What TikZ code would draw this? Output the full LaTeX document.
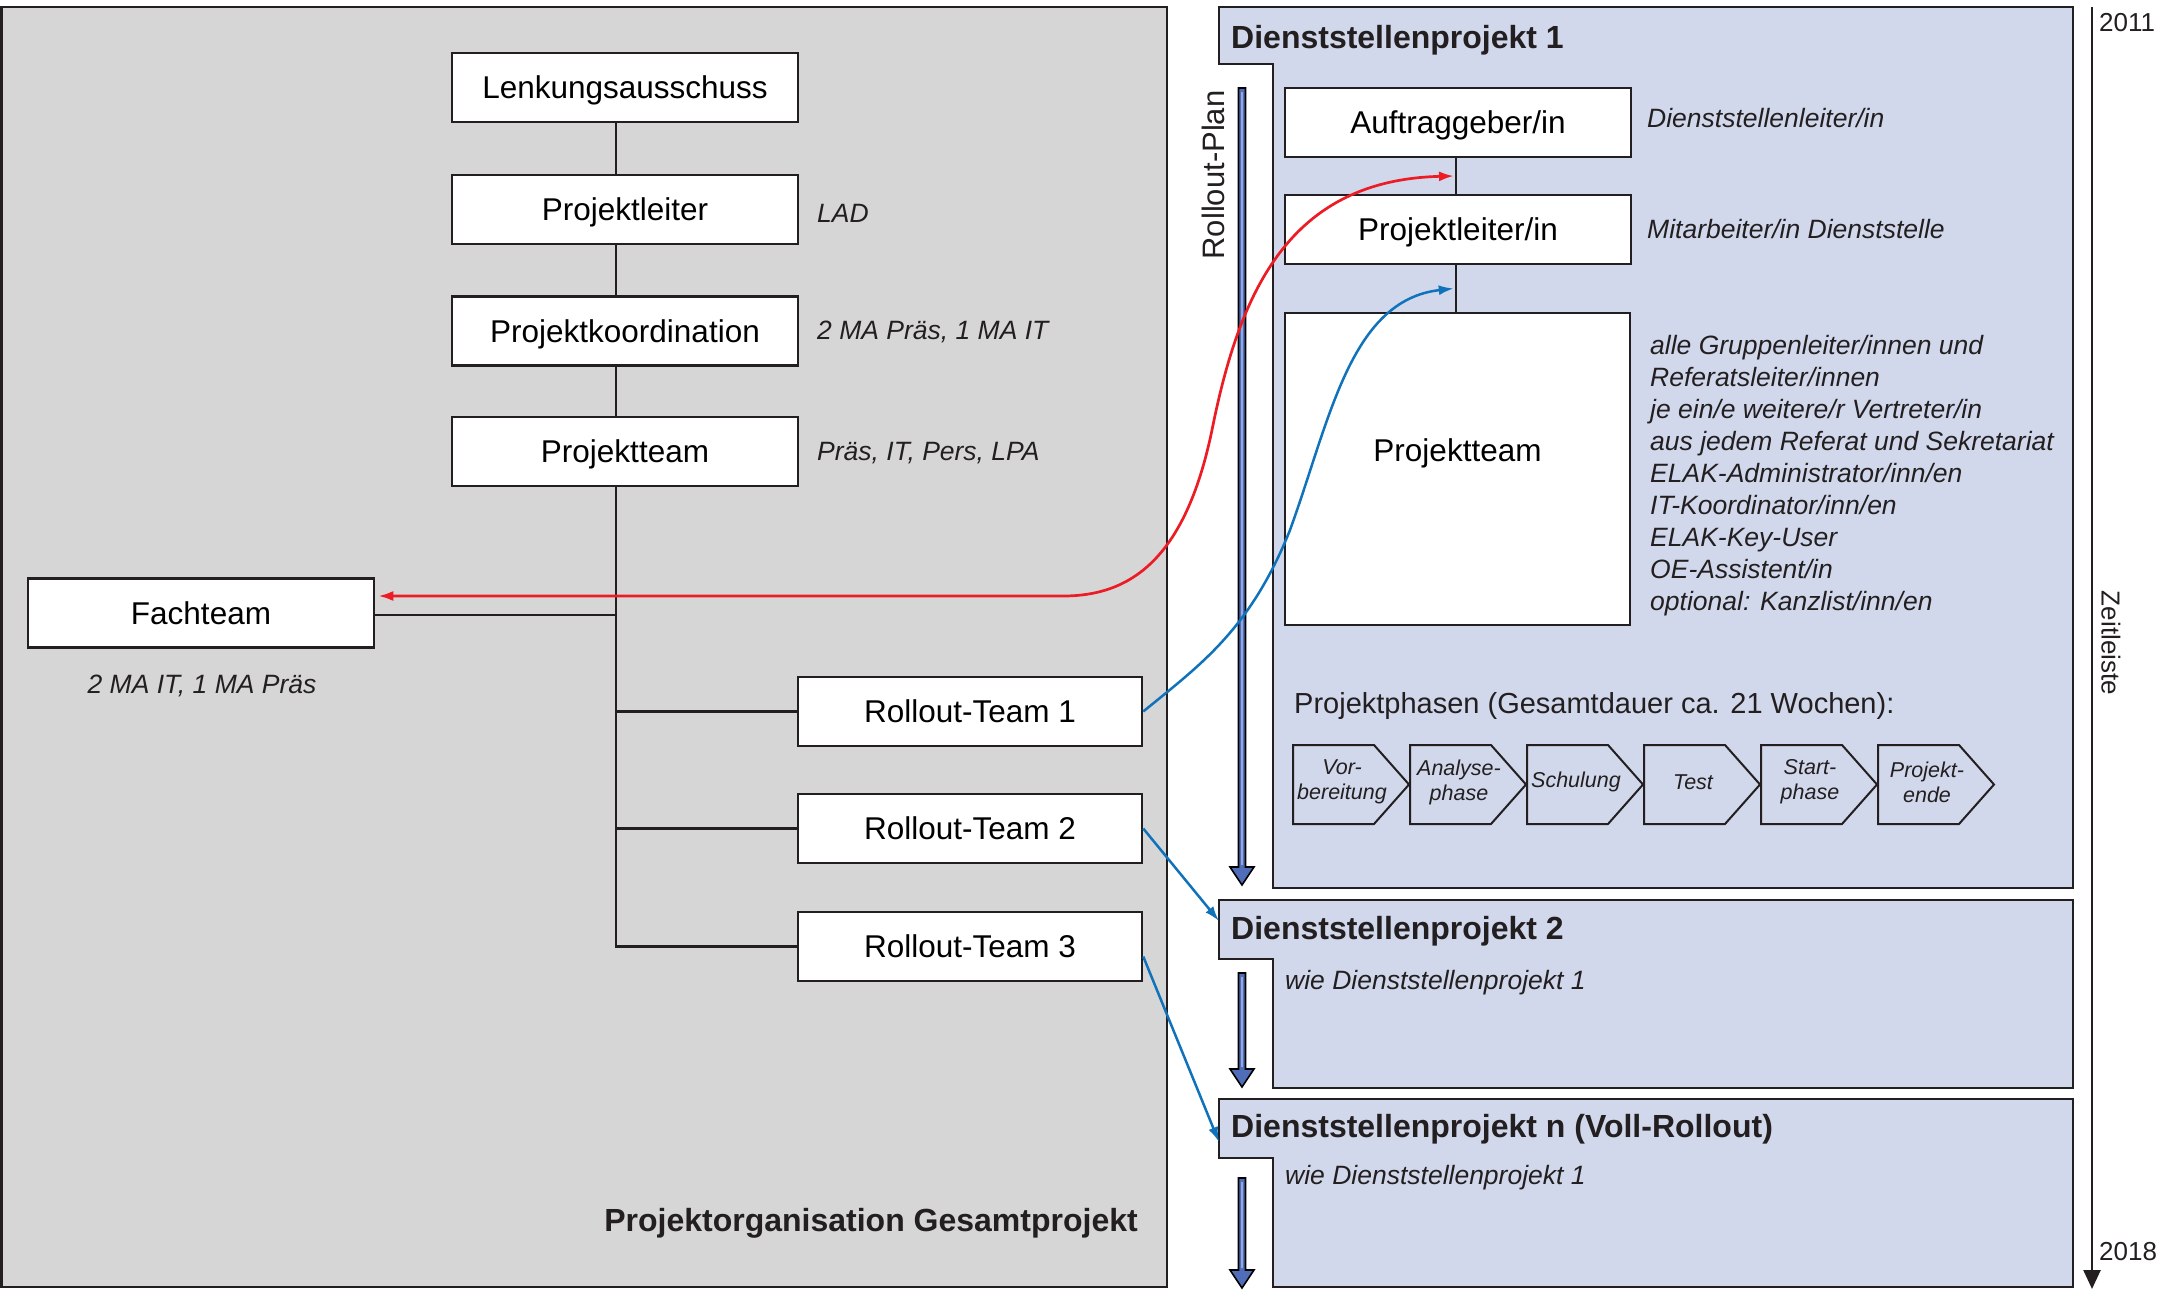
\documentclass[tikz,border=0pt]{standalone}
\usepackage{fontspec}
\setmainfont{Liberation Sans}
\usetikzlibrary{arrows.meta,calc}
\definecolor{panelgray}{HTML}{D6D6D6}
\definecolor{panelblue}{HTML}{D1D8EB}
\definecolor{linedark}{HTML}{231F20}
\definecolor{redarr}{HTML}{ED1C24}
\definecolor{bluearr}{HTML}{0F72BA}
\definecolor{rpblue}{HTML}{4F6DB8}
\definecolor{rplight}{HTML}{93A9DE}
\newcommand\rparrow[2]{%
  \filldraw[fill=rpblue, draw=black, line width=1.6pt] (1238.5,#1) -- (1245.5,#1) -- (1245.5,#2-18) -- (1254,#2-18) -- (1242,#2) -- (1230,#2-18) -- (1238.5,#2-18) -- cycle;
  \draw[rplight, line width=1.2pt] (1242,#1+4) -- (1242,#2-20);}
\begin{document}
\begin{tikzpicture}[x=1pt,y=-1pt,
  box/.style={draw=linedark, fill=white, line width=2.5pt, minimum width=346pt, minimum height=69pt, inner sep=0pt, text height=26pt, text depth=4pt, font=\fontsize{31.5}{38}\selectfont},
  note/.style={font=\fontsize{26.5}{32}\selectfont\itshape, text=linedark, inner sep=0pt},
  titlet/.style={font=\fontsize{32}{38}\selectfont\bfseries, text=linedark, inner sep=0pt},
  plain/.style={font=\fontsize{26}{32}\selectfont, text=linedark, inner sep=0pt},
  conn/.style={draw=linedark, line width=2.5pt},
  phase/.style={font=\fontsize{21.5}{25}\selectfont\itshape, align=center, inner sep=0pt, text=linedark},
  panel/.style={draw=linedark, line width=2.5pt},
  redc/.style={draw=redarr, line width=2.7pt, {Latex[length=15pt,width=10pt]}-{Latex[length=15pt,width=10pt]}},
  bluec/.style={draw=bluearr, line width=2.5pt, -{Latex[length=15pt,width=10pt]}}]
\useasboundingbox[fill=white] (0,0) rectangle (2179,1290);

% ---------- left panel ----------
\filldraw[panel, fill=panelgray] (1.5,7) rectangle (1167,1287);
\node[titlet, anchor=east] (orgtitle) at (1138,1223) {Projektorganisation Gesamtprojekt};

\node[box] (lenk) at (625,87.5) {Lenkungsausschuss};
\node[box] (pl) at (625,209.5) {Projektleiter};
\node[box] (pk) at (625,331) {Projektkoordination};
\node[box] (pt) at (625,451.5) {Projektteam};
\node[box] (fach) at (201,613) {Fachteam};
\node[box, minimum width=344pt] (rt1) at (970,711.5) {Rollout-Team 1};
\node[box, minimum width=344pt] (rt2) at (970,828.5) {Rollout-Team 2};
\node[box, minimum width=344pt] (rt3) at (970,946.5) {Rollout-Team 3};

\node[note, anchor=west] (lad) at (817,213) {LAD};
\node[note, anchor=west] (pknote) at (817,332) {2 MA Präs, 1 MA IT};
\node[note, anchor=west] (ptnote) at (817,453) {Präs, IT, Pers, LPA};
\node[note] (fachnote) at (202,686) {2 MA IT, 1 MA Präs};

\draw[conn] ([xshift=-9pt]lenk.south) -- ([xshift=-9pt]pl.north);
\draw[conn] ([xshift=-9pt]pl.south) -- ([xshift=-9pt]pk.north);
\draw[conn] ([xshift=-9pt]pk.south) -- ([xshift=-9pt]pt.north);
\draw[conn] ([xshift=-9pt]pt.south) -- ([xshift=-9pt]pt.south |- rt3.west) -- (rt3.west);
\draw[conn] ([xshift=-9pt]pt.south |- rt2.west) -- (rt2.west);
\draw[conn] ([xshift=-9pt]pt.south |- rt1.west) -- (rt1.west);
\draw[conn] ([yshift=-2pt]fach.east) -- ([xshift=-9pt,yshift=-2pt]pt.south |- fach.east);

% ---------- right panels ----------
\filldraw[panel, fill=panelblue] (1219,7) -- (2073,7) -- (2073,888) -- (1273,888) -- (1273,64) -- (1219,64) -- cycle;
\filldraw[panel, fill=panelblue] (1219,900) -- (2073,900) -- (2073,1088) -- (1273,1088) -- (1273,959) -- (1219,959) -- cycle;
\filldraw[panel, fill=panelblue] (1219,1099) -- (2073,1099) -- (2073,1287) -- (1273,1287) -- (1273,1158) -- (1219,1158) -- cycle;

\node[titlet, anchor=west] (dp1) at (1231,40) {Dienststellenprojekt 1};
\node[titlet, anchor=west] (dp2) at (1231,931) {Dienststellenprojekt 2};
\node[titlet, anchor=west] (dpn) at (1231,1129) {Dienststellenprojekt n (Voll-Rollout)};
\node[note, anchor=west] (wie2) at (1285,983) {wie Dienststellenprojekt 1};
\node[note, anchor=west] (wien) at (1285,1178) {wie Dienststellenprojekt 1};

\node[box] (auftrag) at (1458,122.5) {Auftraggeber/in};
\node[box] (pl1) at (1458,229.5) {Projektleiter/in};
\node[box, minimum height=312pt, minimum width=345pt] (team) at (1457.5,469) {};
\node[font=\fontsize{31.5}{38}\selectfont, inner sep=0pt] (teamtxt) at (1457.5,453) {Projektteam};
\draw[conn] ([xshift=-2pt]auftrag.south) -- ([xshift=-2pt]pl1.north);
\draw[conn] ([xshift=-2pt]pl1.south) -- ([xshift=-1.5pt]team.north);
\coordinate (m1) at ($([xshift=-4pt]auftrag.south)!0.5!([xshift=-4pt]pl1.north)$);
\coordinate (m2) at ($([xshift=-4pt]pl1.south)!0.5!([xshift=-4pt]team.north)$);

\node[note, anchor=west] (dsl) at (1647,118) {Dienststellenleiter/in};
\node[note, anchor=west] (mad) at (1647,229) {Mitarbeiter/in Dienststelle};
\foreach \t [count=\k] in {alle Gruppenleiter/innen und, Referatsleiter/innen, je ein/e weitere/r Vertreter/in, aus jedem Referat und Sekretariat, ELAK-Administrator/inn/en, IT-Koordinator/inn/en, ELAK-Key-User, OE-Assistent/in, optional: Kanzlist/inn/en}
  \node[note, anchor=base west] (list\k) at (1650,{354+32*(\k-1)}) {\t};

\node[font=\fontsize{29}{34}\selectfont, text=linedark, inner sep=0pt, anchor=west] (phtitle) at (1294,706) {Projektphasen (Gesamtdauer ca. 21 Wochen):};
\foreach \t [count=\k from 0] in {{Vor-\\bereitung},{Analyse-\\phase},{Schulung},{Test},{Start-\\phase},{Projekt-\\ende}} {
  \pgfmathsetmacro\xa{1293+117*\k}
  \filldraw[draw=linedark, fill=panelblue, line width=2pt] (\xa,745) -- ++(81,0) -- ++(35,39.5) -- ++(-35,39.5) -- ++(-81,0) -- cycle;
  \node[phase] (ph\k) at (\xa+49,782) {\t};
}

% ---------- rollout plan arrows ----------
\rparrow{88}{885}
\rparrow{973}{1087}
\rparrow{1178}{1288}
\node[font=\fontsize{31}{36}\selectfont, text=linedark, inner sep=0pt, rotate=90] (rplan) at (1213,175) {Rollout-Plan};

% ---------- timeline ----------
\coordinate (tltop) at (2092,7);
\coordinate (tlbot) at (2092,1289);
\draw[draw=linedark, line width=2.5pt, -{Triangle[length=19pt,width=17pt]}] (tltop) -- (tlbot);
\node[plain, anchor=west] (y2011) at (2099,23) {2011};
\node[plain, anchor=west] (y2018) at (2099,1252) {2018};
\node[plain, rotate=-90] (zeit) at (2111,643) {Zeitleiste};

% ---------- curved connectors ----------
\draw[redc] ([xshift=3pt,yshift=17pt]fach.east) -- (1063,596) .. controls (1130,596) and (1185,560) .. (1212,430) .. controls (1240,290) and (1290,180) .. (m1);
\draw[bluec] (rt1.east) .. controls (1200,665) and (1250,630) .. (1290,530) .. controls (1330,420) and (1350,300) .. (m2);
\coordinate (dp2in) at (1219,921);
\coordinate (dpnin) at (1219,1142);
\draw[bluec] (rt2.east) -- (dp2in);
\draw[bluec] ([yshift=-10pt]rt3.east) -- (dpnin);
\end{tikzpicture}
\end{document}
